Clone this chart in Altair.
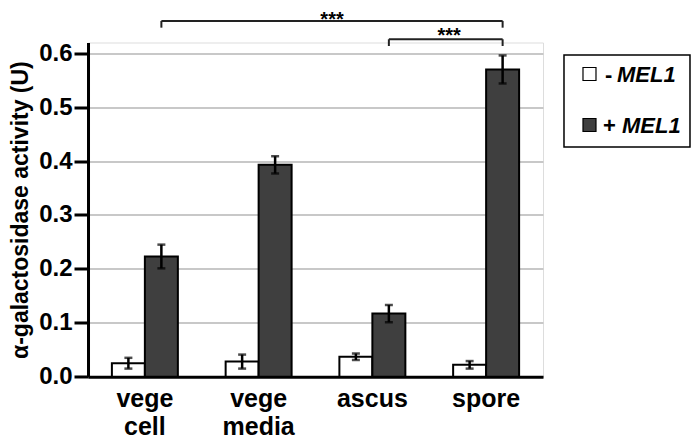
import altair as alt
import pandas as pd

# ---- data ----
groups = ["vege cell", "vege media", "ascus", "spore"]
conditions = ["- MEL1", "+ MEL1"]
minus_vals = [0.025, 0.028, 0.037, 0.022]
minus_err = [0.010, 0.013, 0.006, 0.007]
plus_vals = [0.223, 0.393, 0.117, 0.570]
plus_err = [0.022, 0.016, 0.016, 0.026]
y_ticks = [0.0, 0.1, 0.2, 0.3, 0.4, 0.5, 0.6]

# significance brackets (between "+ MEL1" bars)
br_start = ["vege cell", "ascus"]
br_end = ["spore", "spore"]
br_y = [0.660, 0.626]
br_tick_end = [0.6475, 0.6135]
br_text_y = [0.6507, 0.621]
br_label = ["***", "***"]

FONT = "Liberation Sans"

rows = []
for g, v, e in zip(groups, minus_vals, minus_err):
    rows.append({"group": g, "cond": conditions[0], "value": v, "lo": v - e, "hi": v + e})
for g, v, e in zip(groups, plus_vals, plus_err):
    rows.append({"group": g, "cond": conditions[1], "value": v, "lo": v - e, "hi": v + e})
df = pd.DataFrame(rows)

caps = pd.concat([
    df[["group", "cond"]].assign(y=df["lo"]),
    df[["group", "cond"]].assign(y=df["hi"]),
])

br = pd.DataFrame({"start": br_start, "end": br_end, "y": br_y, "yt": br_tick_end,
                   "ty": br_text_y, "label": br_label})
br_ticks = pd.concat([
    pd.DataFrame({"x": br_start, "y": br_y, "y2": br_tick_end}),
    pd.DataFrame({"x": br_end, "y": br_y, "y2": br_tick_end}),
])

yscale = alt.Scale(domain=[0, 0.62], nice=False)
xscale = alt.Scale(domain=groups, paddingInner=0.42, paddingOuter=0.21)
offscale = alt.Scale(domain=conditions, paddingInner=0, paddingOuter=0)

xaxis = alt.Axis(
    title=None, labelAngle=0, labelExpr="split(datum.label, ' ')",
    labelFont=FONT, labelFontSize=25, labelFontWeight="bold", labelColor="black",
    labelLineHeight=28, ticks=False, labelPadding=10,
    domainColor="black", domainWidth=3, grid=False,
)
yaxis = alt.Axis(
    title="α-galactosidase activity (U)", values=y_ticks, format=".1f",
    labelFont=FONT, labelFontSize=24, labelFontWeight="bold", labelColor="black",
    labelPadding=2, tickSize=14, tickWidth=3, tickColor="black",
    domainColor="black", domainWidth=3,
    grid=True, gridColor="#c8c8c8", gridWidth=2,
    titleFont=FONT, titleFontSize=23, titleFontWeight="bold", titleColor="black",
    titleX=-68, titleBaseline="middle",
)

X = alt.X("group:N", sort=groups, scale=xscale, axis=xaxis)
XO = alt.XOffset("cond:N", sort=conditions, scale=offscale)

bars = alt.Chart(df).mark_bar(stroke="black", strokeWidth=2).encode(
    x=X, xOffset=XO,
    y=alt.Y("value:Q", scale=yscale, axis=yaxis),
    fill=alt.Fill("cond:N", scale=alt.Scale(domain=conditions, range=["white", "#3f3f3f"]), legend=None),
)

err = alt.Chart(df).mark_rule(color="black", strokeWidth=2.5).encode(
    x=alt.X("group:N", sort=groups, scale=xscale), xOffset=XO,
    y=alt.Y("lo:Q", scale=yscale), y2="hi:Q",
)
errcaps = alt.Chart(caps).mark_tick(color="black", size=8, thickness=2.5).encode(
    x=alt.X("group:N", sort=groups, scale=xscale), xOffset=XO,
    y=alt.Y("y:Q", scale=yscale),
)

bh = alt.Chart(br).mark_rule(color="#222222", strokeWidth=2, xOffset=16.5, x2Offset=16.5).encode(
    x=alt.X("start:N", sort=groups, scale=xscale), x2="end:N",
    y=alt.Y("y:Q", scale=yscale),
)
bt = alt.Chart(br_ticks).mark_rule(color="#222222", strokeWidth=2, xOffset=16.5).encode(
    x=alt.X("x:N", sort=groups, scale=xscale),
    y=alt.Y("y:Q", scale=yscale), y2="y2:Q",
)
stars1 = alt.Chart(br.iloc[[0]]).mark_text(
    font=FONT, fontSize=20, fontWeight="bold", color="black", dx=73.4, baseline="alphabetic"
).encode(x=alt.X("label_x:N", scale=xscale), y=alt.Y("ty:Q", scale=yscale), text="label:N").transform_calculate(
    label_x="'vege media'"
)
stars2 = alt.Chart(br.iloc[[1]]).mark_text(
    font=FONT, fontSize=20, fontWeight="bold", color="black", dx=-37, baseline="alphabetic"
).encode(x=alt.X("label_x:N", scale=xscale), y=alt.Y("ty:Q", scale=yscale), text="label:N").transform_calculate(
    label_x="'spore'"
)

# ---- legend (drawn by hand to mix upright sign and italic gene name) ----
one = pd.DataFrame({"k": [0]})
leg_box = alt.Chart(one).mark_rect(fill="white", stroke="black", strokeWidth=1.5).encode(
    x=alt.value(476), x2=alt.value(602), y=alt.value(12.5), y2=alt.value(104.5)
)
leg_sq1 = alt.Chart(one).mark_rect(fill="white", stroke="black", strokeWidth=1.2).encode(
    x=alt.value(495), x2=alt.value(508), y=alt.value(25), y2=alt.value(38)
)
leg_sq2 = alt.Chart(one).mark_rect(fill="#3f3f3f", stroke="black", strokeWidth=1.2).encode(
    x=alt.value(495), x2=alt.value(508), y=alt.value(76), y2=alt.value(89)
)
def ltxt(t, x, y, italic):
    return alt.Chart(one).mark_text(
        font=FONT, fontSize=22, fontWeight="bold", fontStyle="italic" if italic else "normal",
        color="black", align="left", baseline="alphabetic",
    ).encode(x=alt.value(x), y=alt.value(y), text=alt.value(t))

legend = [
    leg_box, leg_sq1, leg_sq2,
    ltxt(conditions[0].split(" ")[0], 517, 39.2, False),
    ltxt(conditions[0].split(" ")[1], 529, 39.2, True),
    ltxt(conditions[1].split(" ")[0], 515, 90.5, False),
    ltxt(conditions[1].split(" ")[1], 534, 90.5, True),
]

chart = alt.layer(bars, err, errcaps, bh, bt, stars1, stars2, *legend).properties(
    width=455, height=334.2,
    autosize=alt.AutoSizeParams(type="none"),
    padding={"left": 80, "top": 34.5, "right": 149, "bottom": 64},
).configure_view(stroke=None).configure(font=FONT)

chart.save("out.html", embed_options={"renderer": "svg", "actions": False})
